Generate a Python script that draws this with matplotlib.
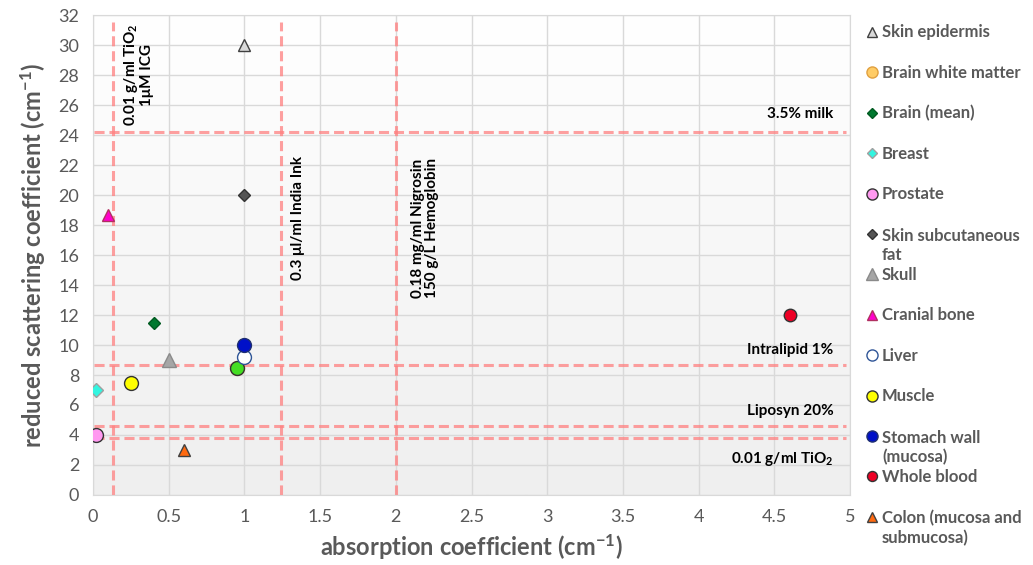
import numpy as np
import matplotlib
matplotlib.use("Agg")
import matplotlib.pyplot as plt
from matplotlib.colors import LinearSegmentedColormap

plt.rcParams["font.family"] = ["Lato", "DejaVu Sans"]
plt.rcParams["mathtext.fontset"] = "custom"
plt.rcParams["mathtext.rm"] = "Lato"
plt.rcParams["mathtext.bf"] = "Lato:bold"
plt.rcParams["mathtext.it"] = "Lato:italic"

# tissue data (absorption, reduced scattering)
tissues = ["Skin epidermis", "Brain white matter", "Brain (mean)", "Breast", "Prostate",
           "Skin subcutaneous\nfat", "Skull", "Cranial bone", "Liver", "Muscle",
           "Stomach wall\n(mucosa)", "Whole blood", "Colon (mucosa and\nsubmucosa)"]
mu_a = [1.0, 0.95, 0.4, 0.02, 0.02, 1.0, 0.5, 0.1, 1.0, 0.25, 1.0, 4.6, 0.6]
mu_s = [30, 8.5, 11.5, 7.0, 4.0, 20, 9.0, 18.7, 9.2, 7.5, 10, 12, 3.0]
markers = ["^", "o", "D", "D", "o", "D", "^", "^", "o", "o", "o", "o", "^"]
faces = ["#d9d9d9", "#ffcc66", "#00792f", "#33f5e0", "#ff99f0", "#555555", "#a6a6a6",
         "#ff00cc", "#ffffff", "#ffff00", "#0010c8", "#ee0025", "#ff6a10"]
edges = ["#404040", "#e0a040", "#005a20", "#a0a0a0", "#333333", "#333333", "#8a8a8a",
         "#b03060", "#2f5597", "#333333", "#1f2f70", "#333333", "#404040"]
sizes = [9, 10, 6.5, 7, 10, 6.5, 10, 9, 10, 10, 10, 9, 9]

# extra unlabelled point drawn over the brain white matter marker
extra_a, extra_s = [0.95], [8.5]

# phantom reference lines
v_lines = [0.13, 1.24, 2.0]
h_lines = [24.2, 8.7, 4.6, 3.8]
v_labels = ["0.01 g/ml TiO$_\\mathbf{2}$\n1\u03bcM ICG", "0.3 \u03bcl/ml India Ink",
            "0.18 mg/ml Nigrosin\n150 g/L Hemoglobin"]
v_label_pos = [(0.30, 28.0), (1.355, 18.5), (2.19, 17.8)]
h_labels = ["3.5% milk", "Intralipid 1%", "Liposyn 20%", "0.01 g/ml TiO$_\\mathbf{2}$"]
h_label_pos = [(4.89, 25.4), (4.89, 9.7), (4.89, 5.6), (4.89, 2.4)]

grey = "#595959"
fig = plt.figure(figsize=(10.33, 5.65), dpi=100)
ax = fig.add_axes([0.090, 0.124, 0.733, 0.849])

cmap = LinearSegmentedColormap.from_list("bg", ["#efefef", "#ffffff"])
ax.imshow(np.linspace(1, 0, 200)[:, None], extent=[0, 5, 0, 32], aspect="auto",
          cmap=cmap, zorder=0, vmin=0, vmax=1)

ax.set_xlim(0, 5)
ax.set_ylim(0, 32)
ax.set_xticks(np.arange(0, 5.01, 0.5))
ax.set_xticklabels(["0", "0.5", "1", "1.5", "2", "2.5", "3", "3.5", "4", "4.5", "5"])
ax.set_yticks(np.arange(0, 33, 2))
ax.grid(True, color="#d9d9d9", linewidth=1, zorder=1)
ax.set_axisbelow(True)
for s in ax.spines.values():
    s.set_color("#d9d9d9")
ax.tick_params(length=0, labelsize=13, colors=grey, pad=10)

dash = dict(color="#ff8080", alpha=0.75, linewidth=2.2, dashes=(3.3, 1.6), zorder=2)
for x in v_lines:
    ax.axvline(x, ymax=0.985, **dash)
for y in h_lines:
    ax.axhline(y, xmin=0.002, xmax=0.995, **dash)

for lab, (x, y) in zip(v_labels, v_label_pos):
    ax.text(x, y, lab, rotation=90, ha="center", va="center", fontsize=11,
            fontweight="bold", color="black", linespacing=1.0, zorder=3)
for lab, (x, y) in zip(h_labels, h_label_pos):
    ax.text(x, y, lab, ha="right", va="center", fontsize=11,
            fontweight="bold", color="black", zorder=3)

for i in range(len(tissues)):
    ax.plot(mu_a[i], mu_s[i], linestyle="none", marker=markers[i], markersize=sizes[i],
            markerfacecolor=faces[i], markeredgecolor=edges[i], markeredgewidth=1, zorder=4)
    if i == 1:
        ax.plot(extra_a, extra_s, linestyle="none", marker="o", markersize=10,
                markerfacecolor="#44dd22", markeredgecolor="#333333", zorder=4)

ax.set_xlabel("absorption coefficient (cm$^{\\mathbf{-1}}$)", fontsize=17,
              fontweight="bold", color=grey, labelpad=5)
ax.set_ylabel("reduced scattering coefficient (cm$^{\\mathbf{-1}}$)", fontsize=17,
              fontweight="bold", color=grey, labelpad=8)

# legend drawn by hand in pixel-like coordinates
lg = fig.add_axes([0, 0, 1, 1])
lg.set_xlim(0, 1033)
lg.set_ylim(565, 0)
lg.axis("off")
for i, lab in enumerate(tissues):
    y = 32 + i * 40.4
    extra_lines = lab.count("\n")
    lg.plot(872, y, linestyle="none", marker=markers[i], markersize=sizes[i] * 0.8,
            markerfacecolor=faces[i], markeredgecolor=edges[i], markeredgewidth=1)
    lg.text(882, y + 5.5 + 21 * extra_lines, lab, ha="left", va="baseline", fontsize=12,
            fontweight="bold", color=grey, linespacing=1.25)

fig.savefig("out.png", dpi=100)
